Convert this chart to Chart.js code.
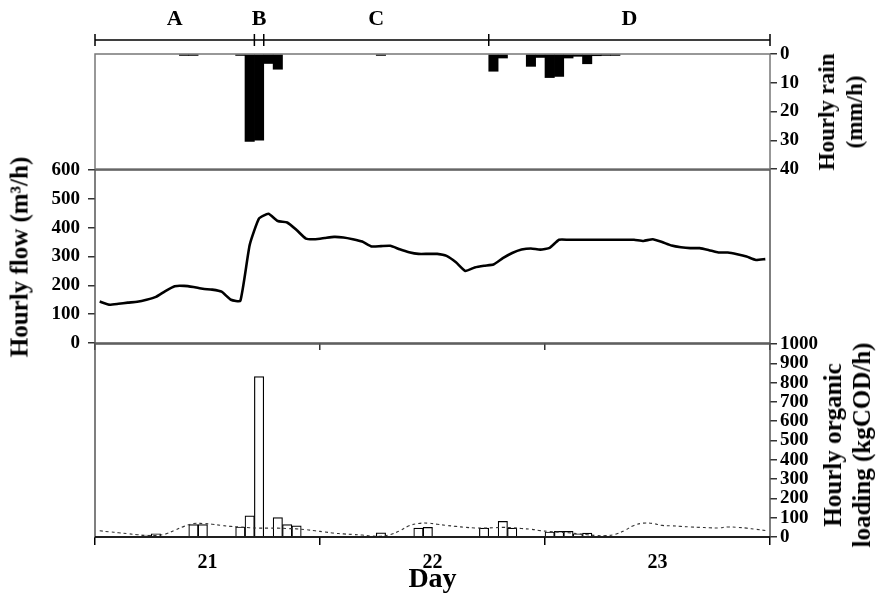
<!DOCTYPE html>
<html>
<head>
<meta charset="utf-8">
<script src="https://cdn.jsdelivr.net/npm/chart.js@4.4.1/dist/chart.umd.min.js"></script>
<style>
  body { margin: 0; background: #fff; }
  #wrap { position: relative; width: 877px; height: 594px; overflow: hidden;
          font-family: "Liberation Serif", "Times New Roman", serif; font-weight: bold; color: #000; }
  canvas { position: absolute; left: 0; }
  .ttl { position: absolute; font-size: 25px; line-height: 29px; text-align: center; white-space: nowrap;
         transform: translate(-50%, -50%) rotate(-90deg); }
</style>
</head>
<body>
<div id="wrap">
  <canvas id="rainChart" width="877" height="190" style="top:0"></canvas>
  <canvas id="flowChart" width="877" height="250" style="top:130px"></canvas>
  <canvas id="loadChart" width="877" height="284" style="top:310px"></canvas>
  <div class="ttl" style="left:19px; top:257px">Hourly flow (m³/h)</div>
  <div class="ttl" style="left:841px; top:112px; font-size:23px; line-height:28px">Hourly rain<br>(mm/h)</div>
  <div class="ttl" style="left:847px; top:445px">Hourly organic<br>loading (kgCOD/h)</div>
</div>
<script>
// hours counted from the start of day 21 (0..72)
const DAY_LABELS = ['21', '22', '23'];
const DAY_TICKS = [0, 24, 48, 72];
const SEGMENT_NAMES = ['A', 'B', 'C', 'D'];
const SEGMENT_BOUNDS = [0, 17, 18, 42, 72];

const RAIN_HOURS = [9, 10, 15, 16, 17, 18, 19, 30, 42, 43, 46, 47, 48, 49, 50, 51, 52, 53, 54, 55];
const RAIN_MM = [0.5, 0.5, 0.5, 30.4, 30, 3.3, 5.3, 0.5, 6, 1.4, 4.3, 1.2, 8.2, 7.8, 1.4, 0.8, 3.4, 0.6, 0.5, 0.5];

// one value per hour
const FLOW_M3H = [
  144, 133, 136, 140, 143, 150, 160, 180, 197, 198, 194, 188, 185, 178, 150, 146,
  340, 432, 448, 423, 418, 392, 362, 360, 364, 368, 366, 360, 352, 335, 336, 337,
  325, 315, 309, 309, 309, 302, 280, 250, 262, 268, 272, 294, 312, 324, 328, 324,
  330, 358, 358, 358, 358, 358, 358, 358, 358, 358, 354, 360, 350, 338, 332, 329,
  329, 322, 314, 314, 308, 300, 288, 291
];

const LOAD_HOURS = [5, 6, 10, 11, 15, 16, 17, 19, 20, 21, 30, 34, 35, 41, 43, 44, 48, 49, 50, 51, 52];
const LOAD_KG = [10, 17, 64, 64, 52, 110, 831, 101, 64, 58, 21, 46, 50, 46, 81, 46, 26, 29, 29, 17, 20];

const LOAD_TREND = [
  32, 27, 22, 17, 12, 8, 8, 15, 35, 55, 70, 70,
  66, 60, 55, 52, 48, 46, 46, 46, 44, 42, 38, 32,
  26, 20, 16, 13, 10, 6, 4, 12, 32, 58, 70, 72,
  66, 60, 55, 50, 47, 46, 48, 50, 48, 44, 40, 33,
  28, 25, 22, 17, 12, 8, 7, 14, 34, 60, 72, 70,
  60, 58, 55, 52, 50, 48, 47, 52, 50, 46, 40, 34
];

Chart.defaults.font.family = '"Liberation Serif", "Times New Roman", serif';
Chart.defaults.font.weight = 'bold';
Chart.defaults.font.size = 19;
Chart.defaults.color = '#000';

const TICK_FONT = { size: 19, weight: 'bold' };
const LEFT_W = 95;
const RIGHT_W = 107;

// box round each panel
const framePlugin = {
  id: 'frame',
  afterDraw(chart, args, opts) {
    const { ctx, chartArea: a } = chart;
    ctx.save();
    ctx.lineWidth = 1.5;
    ctx.strokeStyle = opts.color || '#555';
    ctx.strokeRect(a.left, a.top, a.right - a.left, a.bottom - a.top);
    if (opts.bottomColor) {
      ctx.strokeStyle = opts.bottomColor;
      ctx.beginPath();
      ctx.moveTo(a.left, a.bottom);
      ctx.lineTo(a.right, a.bottom);
      ctx.stroke();
    }
    ctx.restore();
  }
};

// the A-D period bracket above the rain panel
const periodPlugin = {
  id: 'periods',
  afterDraw(chart) {
    const { ctx, chartArea: a } = chart;
    const x = chart.scales.x;
    const yLine = a.top - 14;
    ctx.save();
    ctx.strokeStyle = '#000';
    ctx.lineWidth = 1.5;
    ctx.beginPath();
    ctx.moveTo(x.getPixelForValue(SEGMENT_BOUNDS[0]), yLine);
    ctx.lineTo(x.getPixelForValue(SEGMENT_BOUNDS[SEGMENT_BOUNDS.length - 1]), yLine);
    SEGMENT_BOUNDS.forEach(b => {
      const px = x.getPixelForValue(b);
      ctx.moveTo(px, yLine - 6);
      ctx.lineTo(px, yLine + 6);
    });
    ctx.stroke();
    ctx.fillStyle = '#000';
    ctx.font = 'bold 22px "Liberation Serif", serif';
    ctx.textAlign = 'center';
    ctx.textBaseline = 'middle';
    SEGMENT_NAMES.forEach((name, i) => {
      const mid = (SEGMENT_BOUNDS[i] + SEGMENT_BOUNDS[i + 1]) / 2;
      ctx.fillText(name, x.getPixelForValue(mid), a.top - 35);
    });
    ctx.restore();
  }
};

function hourPoints(hours, values) {
  return hours.map((h, i) => ({ x: h + 0.5, y: values[i] }));
}

function outerTicks() {
  return { drawOnChartArea: false, drawTicks: true, tickLength: 7, tickColor: '#333', lineWidth: 1.5, offset: false };
}

const plainNumber = v => String(v);

new Chart(document.getElementById('rainChart'), {
  type: 'bar',
  data: {
    datasets: [{
      data: hourPoints(RAIN_HOURS, RAIN_MM),
      backgroundColor: '#000',
      borderWidth: 0,
      barPercentage: 1,
      categoryPercentage: 1
    }]
  },
  options: {
    responsive: false,
    animation: false,
    layout: { padding: { left: LEFT_W, right: 0, top: 54, bottom: 21 } },
    plugins: { legend: { display: false }, tooltip: { enabled: false }, frame: { color: '#777' } },
    scales: {
      x: { type: 'linear', min: 0, max: 72, offset: false, display: false },
      y: {
        position: 'right', reverse: true, min: 0, max: 40,
        ticks: { stepSize: 10, padding: 3, font: TICK_FONT, autoSkip: false, callback: plainNumber },
        grid: outerTicks(),
        border: { display: false },
        afterFit(scale) { scale.width = RIGHT_W; }
      }
    }
  },
  plugins: [framePlugin, periodPlugin]
});

new Chart(document.getElementById('flowChart'), {
  type: 'line',
  data: {
    datasets: [{
      data: FLOW_M3H.map((v, h) => ({ x: h + 0.5, y: v })),
      borderColor: '#000',
      borderWidth: 2.6,
      pointRadius: 0,
      tension: 0.15,
      fill: false
    }]
  },
  options: {
    responsive: false,
    animation: false,
    layout: { padding: { left: 0, right: RIGHT_W, top: 40, bottom: 30 } },
    plugins: { legend: { display: false }, tooltip: { enabled: false }, frame: { color: '#555' } },
    scales: {
      x: {
        type: 'linear', min: 0, max: 72, offset: false,
        afterBuildTicks(scale) { scale.ticks = DAY_TICKS.map(v => ({ value: v })); },
        ticks: { display: false },
        grid: outerTicks(),
        border: { display: false },
        afterFit(scale) { scale.height = 7; }
      },
      y: {
        position: 'left', min: 0, max: 600,
        ticks: { stepSize: 100, padding: 8, font: TICK_FONT, autoSkip: false, callback: plainNumber },
        grid: outerTicks(),
        border: { display: false },
        afterFit(scale) { scale.width = LEFT_W; }
      }
    }
  },
  plugins: [framePlugin]
});

new Chart(document.getElementById('loadChart'), {
  data: {
    datasets: [{
      type: 'bar',
      data: hourPoints(LOAD_HOURS, LOAD_KG),
      backgroundColor: '#fff',
      borderColor: '#000',
      borderWidth: 1.2,
      barPercentage: 1,
      categoryPercentage: 1,
      order: 2
    }, {
      type: 'line',
      data: LOAD_TREND.map((v, h) => ({ x: h + 0.5, y: v })),
      borderColor: '#333',
      borderWidth: 1.1,
      borderDash: [3, 3],
      pointRadius: 0,
      tension: 0.4,
      fill: false,
      order: 1
    }]
  },
  options: {
    responsive: false,
    animation: false,
    layout: { padding: { left: LEFT_W, right: 0, top: 34, bottom: 0 } },
    plugins: { legend: { display: false }, tooltip: { enabled: false }, frame: { color: '#555', bottomColor: '#000' } },
    scales: {
      x: {
        type: 'linear', min: 0, max: 72, offset: false,
        afterBuildTicks(scale) {
          scale.ticks = [0, 12, 24, 36, 48, 60, 72].map(v => ({ value: v }));
        },
        ticks: {
          autoSkip: false, maxRotation: 0, padding: 6, font: { size: 20, weight: 'bold' },
          callback: v => (v % 24 === 12 ? DAY_LABELS[(v - 12) / 24] : '')
        },
        grid: {
          drawOnChartArea: false, drawTicks: true, tickLength: 8, lineWidth: 1.5, offset: false,
          tickColor: c => (c.tick && c.tick.value % 24 === 0 ? '#000' : 'rgba(0,0,0,0)')
        },
        border: { display: false },
        title: { display: true, text: 'Day', font: { size: 28, weight: 'bold', lineHeight: 1.05 }, padding: 0 },
        afterFit(scale) { scale.height = 57; }
      },
      y: {
        position: 'right', min: 0, max: 1000,
        ticks: { stepSize: 100, padding: 3, font: TICK_FONT, autoSkip: false, callback: plainNumber },
        grid: outerTicks(),
        border: { display: false },
        afterFit(scale) { scale.width = RIGHT_W; }
      }
    }
  },
  plugins: [framePlugin]
});
</script>
</body>
</html>
